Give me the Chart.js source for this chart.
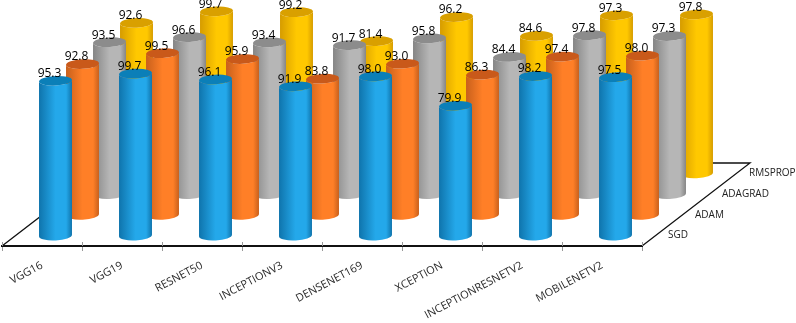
<!DOCTYPE html>
<html>
<head>
<meta charset="utf-8">
<style>
  html, body { margin: 0; padding: 0; background: #fff; }
  canvas { display: block; }
</style>
<script src="https://cdn.jsdelivr.net/npm/chart.js@4"></script>
</head>
<body>
<canvas id="myChart" width="796" height="323"></canvas>
<script>
// Categories
let models = ['VGG16', 'VGG19', 'RESNET50', 'INCEPTIONV3', 'DENSENET169', 'XCEPTION', 'INCEPTIONRESNETV2', 'MOBILENETV2'];
// Values
let sgd = [95.3, 99.7, 96.1, 91.9, 98.0, 79.9, 98.2, 97.5];
let adam = [92.8, 99.5, 95.9, 83.8, 93.0, 86.3, 97.4, 98.0];
let adagrad = [93.5, 96.6, 93.4, 91.7, 95.8, 84.4, 97.8, 97.3];
let rmsprop = [92.6, 99.7, 99.2, 81.4, 96.2, 84.6, 97.3, 97.8];
// Side colour, middle colour, top colour
let shades = [
    ['#0f74ac', '#24a8ea', '#0b7fb8'],
    ['#c8601c', '#ff7f27', '#c9591a'],
    ['#858585', '#b6b6b6', '#8c8c8c'],
    ['#d69c00', '#ffc800', '#d9a000']
];

const FONT = '"Open Sans", sans-serif';
// floor depth of one series row
const DX = 27, DY = 20.75;
const TILT = -0.05;

function rowOffset(i) {
    return {x: (i + 0.5) * DX, y: -(i + 0.5) * DY};
}

const cylinders = {
    id: 'cylinders',
    beforeDatasetsDraw(chart) {
        let ctx = chart.ctx, a = chart.chartArea, n = chart.data.datasets.length;
        ctx.save();
        ctx.strokeStyle = '#111';
        ctx.lineWidth = 1.3;
        ctx.beginPath();
        ctx.moveTo(a.left, a.bottom);
        ctx.lineTo(a.left + n * DX, a.bottom - n * DY);
        ctx.lineTo(a.right + n * DX, a.bottom - n * DY);
        ctx.lineTo(a.right, a.bottom);
        ctx.stroke();
        // small tick marks, above the front line
        ctx.strokeStyle = '#999';
        ctx.lineWidth = 1;
        let step = (a.right - a.left) / models.length;
        for (let k = 0; k <= models.length; k++) {
            let tx = Math.round(a.left + k * step) + 0.5;
            ctx.beginPath();
            ctx.moveTo(tx, a.bottom - 4);
            ctx.lineTo(tx, a.bottom);
            ctx.stroke();
        }
        // series names along the right edge
        ctx.fillStyle = '#222';
        ctx.font = '10px ' + FONT;
        ctx.textAlign = 'left';
        ctx.textBaseline = 'middle';
        chart.data.datasets.forEach((ds, i) => {
            let o = rowOffset(i);
            ctx.fillText(ds.label, a.right + o.x + 12.5, a.bottom + o.y);
        });
        ctx.restore();
    },
    beforeDatasetDraw(chart, args) {
        let ctx = chart.ctx, i = args.index, s = shades[i], o = rowOffset(i);
        args.meta.data.forEach(bar => {
            let cx = bar.x + o.x, top = bar.y + o.y, base = bar.base + o.y;
            let rx = bar.width / 2, ry = 4.8;
            let g = ctx.createLinearGradient(cx - rx, 0, cx + rx, 0);
            g.addColorStop(0, s[0]);
            g.addColorStop(0.5, s[1]);
            g.addColorStop(0.82, s[1]);
            g.addColorStop(1, s[0]);
            ctx.save();
            ctx.fillStyle = g;
            ctx.beginPath();
            ctx.ellipse(cx, top, rx, ry, TILT, Math.PI, 0, true);
            ctx.ellipse(cx, base, rx, ry, TILT, 0, Math.PI, false);
            ctx.closePath();
            ctx.fill();
            ctx.fillStyle = s[2];
            ctx.beginPath();
            ctx.ellipse(cx, top, rx, ry, TILT, 0, Math.PI * 2);
            ctx.fill();
            ctx.restore();
        });
        return false;
    },
    afterDatasetsDraw(chart) {
        let ctx = chart.ctx;
        ctx.save();
        ctx.fillStyle = '#000';
        ctx.font = '12px ' + FONT;
        ctx.textAlign = 'center';
        ctx.textBaseline = 'middle';
        chart.data.datasets.forEach((ds, i) => {
            let o = rowOffset(i);
            chart.getDatasetMeta(i).data.forEach((bar, k) => {
                ctx.fillText(ds.data[k].toFixed(1), bar.x + o.x - 6, bar.y + o.y - 7);
            });
        });
        ctx.restore();
    }
};

let myChart1 = document.getElementById('myChart').getContext('2d');

let chart1 = new Chart(myChart1, {
    type: 'bar',
    plugins: [cylinders],
    data: {
        labels: models,
        datasets: [
            {label: 'SGD', data: sgd},
            {label: 'ADAM', data: adam},
            {label: 'ADAGRAD', data: adagrad},
            {label: 'RMSPROP', data: rmsprop}
        ]
    },
    options: {
        responsive: false,
        animation: false,
        datasets: {bar: {barThickness: 33}},
        layout: {autoPadding: false, padding: {left: 2, right: 154, top: 83.5, bottom: 0}},
        plugins: {legend: {display: false}, tooltip: {enabled: false}},
        scales: {
            x: {
                stacked: true,
                afterFit(scale) { scale.height = 77; },
                border: {color: '#111', width: 2},
                grid: {drawOnChartArea: false, tickLength: 5, color: '#999'},
                ticks: {
                    autoSkip: false,
                    minRotation: 28,
                    maxRotation: 28,
                    padding: 8,
                    color: '#2a2a2a',
                    font: {family: '"Open Sans", sans-serif', size: 11}
                }
            },
            y: {display: false, min: 0, max: 100}
        }
    }
});
</script>
</body>
</html>
